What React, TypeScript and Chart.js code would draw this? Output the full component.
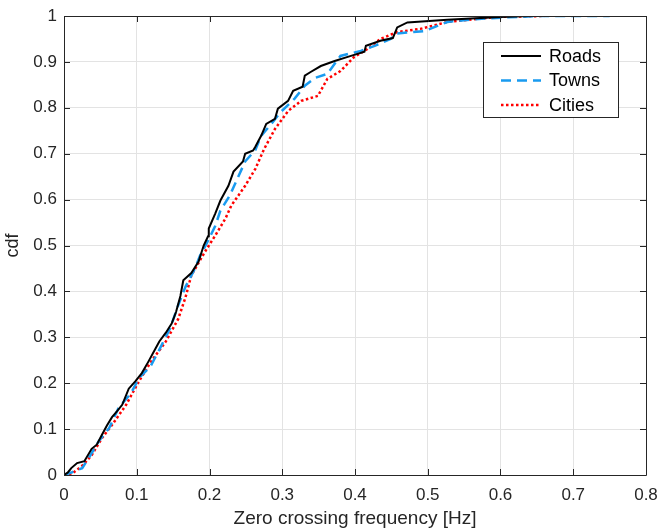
import React, { useEffect, useRef } from "react";
import { Chart, registerables } from "chart.js";

Chart.register(...registerables);

const xTicks = [0, 0.1, 0.2, 0.3, 0.4, 0.5, 0.6, 0.7, 0.8];
const yTicks = [0, 0.1, 0.2, 0.3, 0.4, 0.5, 0.6, 0.7, 0.8, 0.9, 1];
const seriesNames = ["Roads", "Towns", "Cities"];

const roadsX = [0, 0.005, 0.01, 0.018, 0.028, 0.038, 0.045, 0.052, 0.059, 0.066, 0.073, 0.08, 0.089, 0.098, 0.107, 0.116, 0.126, 0.131, 0.14, 0.148, 0.154, 0.16, 0.164, 0.175, 0.185, 0.192, 0.198, 0.199, 0.208, 0.215, 0.226, 0.233, 0.246, 0.249, 0.26, 0.263, 0.271, 0.278, 0.29, 0.294, 0.308, 0.315, 0.328, 0.331, 0.339, 0.353, 0.372, 0.39, 0.413, 0.415, 0.435, 0.452, 0.458, 0.472, 0.527, 0.6, 0.64];
const roadsY = [0, 0.005, 0.015, 0.026, 0.03, 0.057, 0.066, 0.087, 0.108, 0.126, 0.139, 0.153, 0.188, 0.204, 0.222, 0.247, 0.276, 0.291, 0.31, 0.33, 0.355, 0.39, 0.424, 0.44, 0.465, 0.5, 0.52, 0.537, 0.57, 0.598, 0.63, 0.661, 0.683, 0.7, 0.707, 0.715, 0.739, 0.765, 0.776, 0.798, 0.815, 0.837, 0.846, 0.87, 0.878, 0.891, 0.902, 0.911, 0.922, 0.935, 0.946, 0.952, 0.975, 0.986, 0.992, 0.998, 1.0];

const townsX = [0, 0.011, 0.025, 0.034, 0.048, 0.062, 0.075, 0.092, 0.103, 0.119, 0.13, 0.146, 0.157, 0.167, 0.18, 0.187, 0.196, 0.208, 0.215, 0.228, 0.237, 0.249, 0.263, 0.271, 0.285, 0.298, 0.317, 0.331, 0.345, 0.362, 0.38, 0.408, 0.427, 0.449, 0.458, 0.495, 0.527, 0.564, 0.609, 0.65, 0.75];
const townsY = [0, 0.006, 0.015, 0.037, 0.074, 0.102, 0.146, 0.178, 0.211, 0.237, 0.27, 0.32, 0.37, 0.41, 0.45, 0.478, 0.504, 0.543, 0.576, 0.609, 0.641, 0.683, 0.708, 0.739, 0.765, 0.791, 0.82, 0.848, 0.865, 0.874, 0.913, 0.924, 0.935, 0.95, 0.962, 0.967, 0.987, 0.993, 0.997, 1.0, 1.0];

const citiesX = [0, 0.011, 0.025, 0.038, 0.052, 0.066, 0.085, 0.103, 0.12, 0.14, 0.157, 0.167, 0.175, 0.194, 0.208, 0.222, 0.23, 0.249, 0.263, 0.275, 0.29, 0.308, 0.326, 0.349, 0.362, 0.38, 0.399, 0.417, 0.435, 0.458, 0.49, 0.527, 0.595, 0.66];
const citiesY = [0, 0.003, 0.02, 0.043, 0.08, 0.109, 0.152, 0.204, 0.248, 0.291, 0.34, 0.387, 0.435, 0.487, 0.522, 0.559, 0.587, 0.63, 0.667, 0.71, 0.754, 0.793, 0.815, 0.826, 0.863, 0.88, 0.911, 0.928, 0.95, 0.965, 0.972, 0.987, 0.998, 1.0];

const toPts = (xs: number[], ys: number[]) => xs.map((x, i) => ({ x, y: ys[i] }));

const FONT = '"Liberation Sans", Arial, Helvetica, sans-serif';
const AXIS_COLOR = "#262626";

const fmt = (v: number) => String(Math.round(v * 10) / 10);

const framePlugin = {
  id: "matlabFrame",
  afterDraw(chart: any) {
    const { ctx, chartArea } = chart;
    const { left, right, top, bottom } = chartArea;
    const xs = chart.scales.x;
    const ys = chart.scales.y;
    ctx.save();
    ctx.strokeStyle = AXIS_COLOR;
    ctx.lineWidth = 1;
    ctx.beginPath();
    ctx.rect(Math.round(left) + 0.5, Math.round(top) + 0.5, Math.round(right - left), Math.round(bottom - top));
    ctx.stroke();
    const tl = 6;
    ctx.beginPath();
    xTicks.forEach((v) => {
      const px = Math.round(xs.getPixelForValue(v)) + 0.5;
      ctx.moveTo(px, bottom);
      ctx.lineTo(px, bottom - tl);
      ctx.moveTo(px, top);
      ctx.lineTo(px, top + tl);
    });
    yTicks.forEach((v) => {
      const py = Math.round(ys.getPixelForValue(v)) + 0.5;
      ctx.moveTo(left, py);
      ctx.lineTo(left + tl, py);
      ctx.moveTo(right, py);
      ctx.lineTo(right - tl, py);
    });
    ctx.stroke();

    // axis titles
    ctx.fillStyle = AXIS_COLOR;
    ctx.font = `19px ${FONT}`;
    ctx.textAlign = "center";
    ctx.textBaseline = "middle";
    ctx.fillText("Zero crossing frequency [Hz]", (left + right) / 2, 519);
    ctx.save();
    ctx.translate(13, (top + bottom) / 2);
    ctx.rotate(-Math.PI / 2);
    ctx.font = `18px ${FONT}`;
    ctx.fillText("cdf", 0, 0);
    ctx.restore();

    // legend
    const bx = 483.5, by = 42.5, bw = 135, bh = 75;
    ctx.fillStyle = "#ffffff";
    ctx.fillRect(bx, by, bw, bh);
    ctx.strokeStyle = AXIS_COLOR;
    ctx.lineWidth = 1;
    ctx.setLineDash([]);
    ctx.strokeRect(bx, by, bw, bh);
    const rows = [56, 80.5, 105];
    chart.data.datasets.forEach((ds: any, i: number) => {
      const y = rows[i];
      ctx.save();
      ctx.strokeStyle = ds.borderColor;
      ctx.lineWidth = ds.borderWidth;
      ctx.setLineDash(ds.borderDash || []);
      ctx.lineCap = "butt";
      ctx.beginPath();
      ctx.moveTo(501, y);
      ctx.lineTo(541, y);
      ctx.stroke();
      ctx.restore();
      ctx.fillStyle = "#000000";
      ctx.font = `18px ${FONT}`;
      ctx.textAlign = "left";
      ctx.textBaseline = "middle";
      ctx.fillText(ds.label, 549, y + 1);
    });
    ctx.restore();
  },
};

export default function App() {
  const ref = useRef<HTMLCanvasElement | null>(null);
  useEffect(() => {
    if (!ref.current) return;
    const chart = new Chart(ref.current, {
      type: "line",
      data: {
        datasets: [
          {
            label: seriesNames[0],
            data: toPts(roadsX, roadsY),
            borderColor: "#000000",
            borderWidth: 2,
            pointRadius: 0,
            tension: 0,
            fill: false,
          },
          {
            label: seriesNames[1],
            data: toPts(townsX, townsY),
            borderColor: "rgb(25,155,240)",
            borderWidth: 2.5,
            borderDash: [10, 6],
            pointRadius: 0,
            tension: 0,
            fill: false,
          },
          {
            label: seriesNames[2],
            data: toPts(citiesX, citiesY),
            borderColor: "#ff0000",
            borderWidth: 2.5,
            borderDash: [2.5, 2.5],
            pointRadius: 0,
            tension: 0,
            fill: false,
          },
        ],
      },
      options: {
        animation: false,
        responsive: false,
        devicePixelRatio: 1,
        parsing: false as any,
        layout: { padding: { top: 16, right: 13, left: 0, bottom: 0 } },
        plugins: { legend: { display: false }, tooltip: { enabled: false } },
        scales: {
          x: {
            type: "linear",
            min: 0,
            max: 0.8,
            afterFit: (s: any) => {
              s.height = 53;
              s.paddingLeft = 0;
              s.paddingRight = 0;
            },
            afterBuildTicks: (s: any) => {
              s.ticks = xTicks.map((v) => ({ value: v }));
            },
            grid: { color: "#e3e3e3", lineWidth: 1, drawTicks: false },
            border: { display: false },
            ticks: {
              padding: 10,
              color: AXIS_COLOR,
              font: { family: FONT, size: 17 },
              maxRotation: 0,
              autoSkip: false,
              callback: (v: any) => fmt(Number(v)),
            },
          },
          y: {
            type: "linear",
            min: 0,
            max: 1,
            afterFit: (s: any) => {
              s.width = 64;
              s.paddingTop = 0;
              s.paddingBottom = 0;
            },
            afterBuildTicks: (s: any) => {
              s.ticks = yTicks.map((v) => ({ value: v }));
            },
            grid: { color: "#e3e3e3", lineWidth: 1, drawTicks: false },
            border: { display: false },
            ticks: {
              padding: 7,
              color: AXIS_COLOR,
              font: { family: FONT, size: 17 },
              autoSkip: false,
              callback: (v: any) => fmt(Number(v)),
            },
          },
        },
      },
      plugins: [framePlugin],
    });
    return () => chart.destroy();
  }, []);
  return (
    <div style={{ position: "absolute", left: 0, top: 0, width: 659, height: 528, background: "#fff" }}>
      <canvas ref={ref} width={659} height={528} style={{ display: "block" }} />
    </div>
  );
}
